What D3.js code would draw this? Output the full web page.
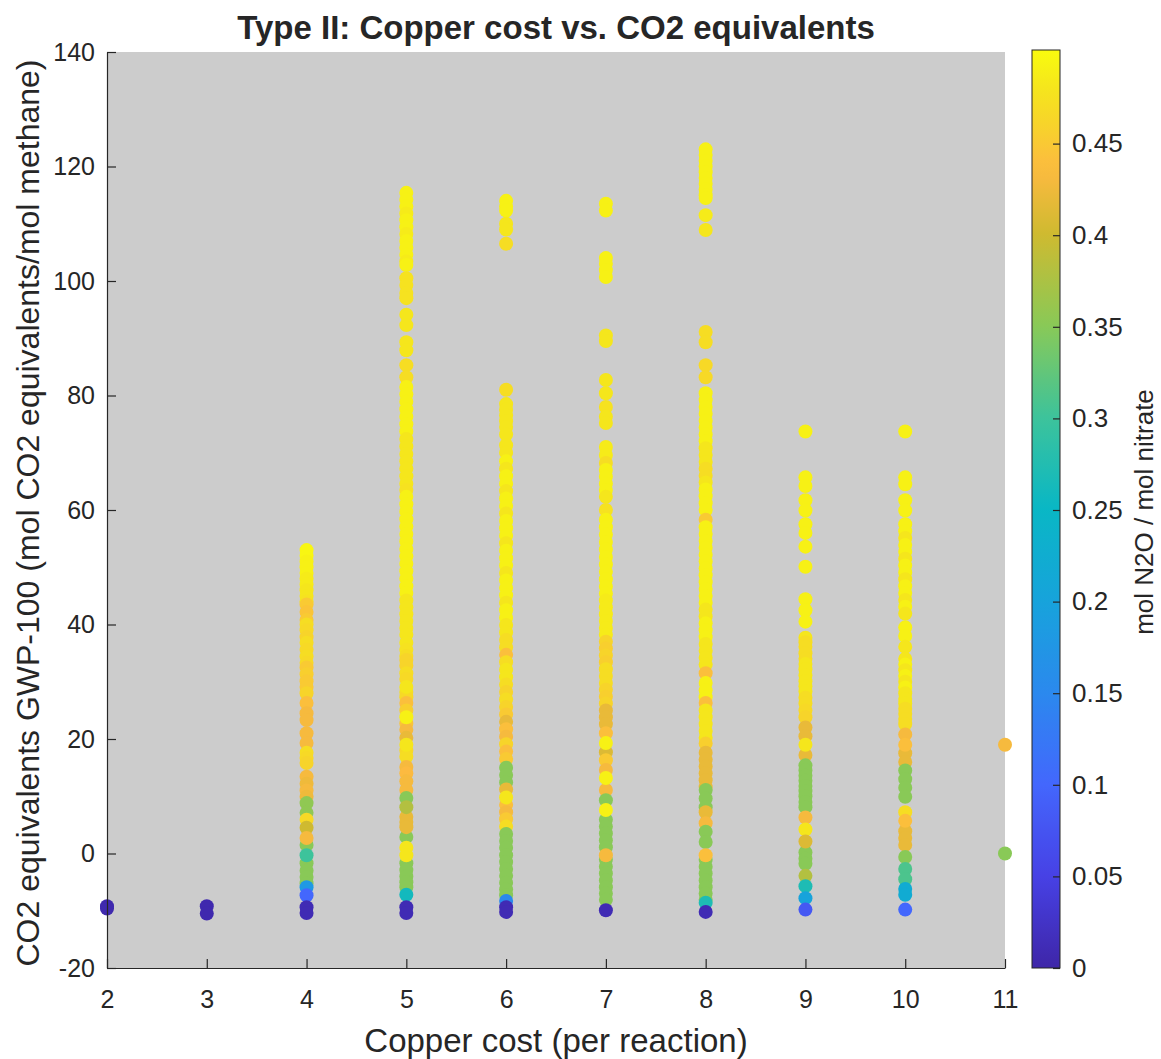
<!DOCTYPE html>
<html>
<head>
<meta charset="utf-8">
<script src="https://cdn.jsdelivr.net/npm/d3@7"></script>
<style>
  body { margin: 0; background: #ffffff; }
  text { font-family: "Liberation Sans", Arial, Helvetica, sans-serif; fill: #262626; }
</style>
</head>
<body>
<svg id="chart" width="1161" height="1059"></svg>
<script>
// ---- data: copper cost (x), CO2 equivalents GWP-100 (y), mol N2O / mol nitrate (colour) ----
const copperCost = [2, 3, 4, 5, 6, 7, 8, 9, 10, 11];
const xTickValues = [2, 3, 4, 5, 6, 7, 8, 9, 10, 11];
const yTickValues = [-20, 0, 20, 40, 60, 80, 100, 120, 140];
const colorTickValues = [0, 0.05, 0.1, 0.15, 0.2, 0.25, 0.3, 0.35, 0.4, 0.45];

// each entry: [CO2 equivalents, mol N2O / mol nitrate]
const cost2 = [[-9.2, 0.005], [-9.6, 0.005]];
const cost3 = [[-9.2, 0.005], [-10.5, 0.005]];
const cost4 = [
  [53, .495], [52, .495], [51, .49], [50, .49], [49, .49], [48, .485], [47, .485], [46, .48], [45, .48], [44, .475],
  [43.5, .45], [42.2, .445], [40.8, .45], [40, .47], [39, .465], [37.8, .46], [36.8, .47], [35.6, .465], [34.4, .47], [33.3, .465],
  [32.5, .45], [31.3, .455], [30.1, .45], [29.1, .45], [28, .46], [26.3, .44], [24.5, .43], [23.3, .43],
  [21, .43], [19.3, .43], [17.6, .47], [16.7, .465], [15.8, .46], [13.4, .43], [12.2, .425], [11, .43], [9.9, .425],
  [8.8, .355], [7.1, .355], [-1.7, .35], [-3, .35], [-4.1, .35], [-5.2, .35], [1.5, .35],
  [5.9, .465], [4.5, .40], [2.7, .43], [-0.3, .30],
  [-5.9, .18], [-7.3, .10], [-9.4, .01], [-10.4, .01]
];
const cost5 = [
  [115.4, .49], [114.2, .49], [113, .49], [111.8, .485], [110.6, .49], [109.4, .49], [108.2, .485], [107, .49], [105.8, .49], [104.6, .49], [103.4, .485], [102.8, .49],
  [100.5, .475], [99.3, .475], [97.9, .475], [97, .475], [94.1, .48], [92.3, .48], [89.3, .48], [87.9, .48], [85.3, .47], [83.2, .47],
  [81.5, .49], [80.2, .49], [78.9, .49], [77.6, .49], [76.3, .49], [75, .49], [73.7, .49], [72.4, .48], [71.1, .48], [69.8, .48],
  [68.5, .48], [67.2, .48], [65.9, .48], [64.6, .48], [63.5, .475], [62.3, .49], [61, .49], [59.7, .49], [58.4, .49], [57.1, .49],
  [55.8, .49], [54.5, .49], [53.2, .49], [51.9, .49], [50.6, .49], [49.3, .49], [48, .49], [46.7, .49], [45.5, .49],
  [44.2, .48], [43, .48], [41.8, .48], [40.6, .48], [39.4, .48], [38.2, .48], [36.8, .48],
  [35.6, .475], [34.5, .47], [33.8, .46], [32.8, .46], [31.5, .47], [30.5, .465], [28.2, .47], [27.3, .465], [26.3, .44], [25, .455],
  [22.7, .445], [21.6, .43], [20.2, .42], [18, .465], [16.9, .47], [15.1, .43], [14, .435], [12.6, .43], [11.1, .43],
  [-1.7, .35], [-2.9, .35], [-4, .35], [-5, .35], [-5.9, .35], [2.9, .35], [6.4, .42], [5.5, .42], [4.6, .42],
  [29.1, .48], [23.8, .49], [19, .48], [9.7, .35], [8.1, .38], [1, .48], [-0.3, .48],
  [-7.2, .26], [-9.4, .01], [-10.4, .01]
];
const cost6 = [
  [114, .49], [113, .49], [112.3, .49], [110, .48], [109, .48], [106.5, .47],
  [81, .47], [78.5, .48], [77.5, .48], [76.5, .48], [75.5, .48], [74.5, .48], [73.2, .48], [71.3, .48], [70, .48],
  [68.5, .49], [67.2, .48], [65.9, .49], [64.6, .49], [63.3, .48], [62, .49], [60.7, .49], [59.4, .48], [58.1, .49], [56.8, .49],
  [55.5, .49], [54.2, .48], [52.9, .49], [51.6, .49], [50.3, .49], [49, .48], [47.7, .49], [46.4, .49], [45.1, .49], [43.8, .48],
  [42.5, .49], [41.2, .49], [39.9, .48],
  [38.6, .48], [37.3, .47], [36, .47], [34.7, .44], [33.4, .47], [32.1, .48], [30.8, .48], [29.5, .47], [28.2, .46], [26.9, .47],
  [25.6, .46], [24.3, .45], [23, .42], [21.7, .44], [20.4, .43], [19.1, .46], [17.8, .44], [16.5, .45],
  [15, .35], [13.7, .35], [12.4, .35], [11.2, .42], [8.5, .44], [7.2, .43], [6, .45], [4.7, .47],
  [3.4, .35], [2.2, .35], [1, .35], [-0.3, .35], [-1.5, .35], [-2.7, .35], [-3.9, .35], [-5.1, .35], [-6.3, .35], [-7.3, .35],
  [9.8, .48], [-8.3, .15], [-9.4, .01], [-10.2, .01]
];
const cost7 = [
  [113.5, .49], [112.3, .49], [104, .49], [103, .49], [101.9, .49], [100.7, .49], [90.5, .48], [89.5, .48],
  [82.7, .48], [80.4, .48], [78, .475], [76.3, .48], [75.2, .48], [71, .485], [69.6, .485], [68.2, .47],
  [67, .49], [65.8, .49], [64.6, .49], [63.5, .49], [62.3, .48], [60, .475],
  [58.3, .49], [57, .49], [55.7, .49], [54.4, .49], [53.1, .49], [51.8, .49], [50.5, .49], [49.2, .49], [47.9, .49], [46.6, .49], [45.4, .49],
  [44.2, .485], [43, .485], [41.8, .485], [40.6, .485], [39.4, .485], [38.2, .485],
  [37, .46], [35.8, .455], [34.6, .46], [33.4, .455], [32.2, .47], [31, .47], [29.8, .47], [28.6, .46], [27.4, .455], [26.2, .46],
  [25, .42], [23.8, .42], [22.6, .42], [21, .44], [17.7, .41], [16.3, .45], [14.6, .43], [11.1, .43],
  [5.9, .35], [4.7, .35], [3.5, .35], [2.3, .35], [1.1, .35], [-1.1, .35], [-2.3, .35], [-3.5, .35], [-4.7, .35], [-5.9, .35], [-7, .35], [-8.1, .35],
  [19.3, .49], [13.2, .49], [9.3, .35], [7.6, .49], [-0.3, .43], [-9.9, .01]
];
const cost8 = [
  [123, .49], [122, .49], [121, .49], [120, .49], [119, .49], [118, .49], [117, .49], [116, .49], [115, .49], [114.5, .49],
  [111.5, .485], [108.9, .48], [91.1, .47], [89.3, .47], [85.3, .465], [83.2, .465],
  [80.4, .49], [79.2, .49], [78, .49], [76.8, .49], [75.6, .49], [74.4, .49], [73.2, .49], [72, .49], [70.8, .48], [69.6, .48], [68.4, .48],
  [67.2, .47], [66, .47], [64.8, .48], [63.6, .49], [62.4, .49], [61.2, .49], [60, .49], [58.3, .45],
  [57, .49], [55.8, .49], [54.6, .49], [53.4, .49], [52.2, .49], [51, .49], [49.8, .49], [48.6, .49], [47.4, .49], [46.2, .49], [45, .49], [43.8, .49],
  [42.6, .48], [41.4, .48], [40.2, .49], [39, .49], [37.8, .49], [36.6, .48], [35.4, .48], [34.2, .48], [33, .48], [31.5, .44],
  [29.8, .49], [28.5, .49], [27.3, .49], [26.3, .44], [25, .48], [23.8, .48], [22.6, .48], [21.4, .48], [20.2, .48], [19.2, .455],
  [17.6, .42], [16.4, .42], [15.2, .42], [14, .42], [12.8, .42], [11.6, .42], [11.1, .35], [9.6, .35], [8.1, .35],
  [-1.1, .35], [-2.3, .35], [-3.5, .35], [-4.7, .35], [-5.9, .35], [-7, .35], [-8.1, .35],
  [7.2, .42], [5.3, .43], [3.8, .35], [2, .35], [-0.3, .44], [-8.6, .27], [-10.2, .01]
];
const cost9 = [
  [73.7, .49], [65.7, .49], [64.2, .49], [61.7, .49], [59.9, .49], [57.5, .49], [56, .49], [53.6, .49], [50.1, .49],
  [44.4, .49], [42.5, .49], [40.5, .49], [37.7, .48], [36.9, .47], [36.1, .47], [35, .47], [34, .47], [33.1, .48], [32.2, .48],
  [31.1, .48], [30.1, .48], [29.2, .48], [28.3, .48], [27.2, .47], [26.2, .47], [25, .465], [23.8, .46], [22, .42], [20.5, .42],
  [17.2, .42], [15.4, .35], [14.5, .35], [13.6, .35], [12.7, .35], [11.8, .35], [10.9, .35], [10, .35], [9, .35], [8.1, .35],
  [0.2, .35], [-0.9, .35], [-1.8, .35],
  [19, .48], [6.3, .43], [4.2, .48], [2.1, .41], [-3.9, .38], [-5.7, .27], [-7.8, .2], [-9.8, .08]
];
const cost10 = [
  [73.7, .49], [65.7, .49], [64.5, .49], [61.7, .49], [59.9, .49], [57.5, .49], [56.3, .49], [55.1, .48], [53.9, .49], [52.7, .49],
  [51.5, .48], [50.3, .49], [49.1, .49], [47.9, .48], [46.7, .49], [45.5, .49], [44.3, .48], [43.1, .49], [41.9, .48],
  [39.5, .49], [38, .49], [36.1, .48], [34, .48], [33, .49], [32, .48], [31, .49], [30, .48], [29, .49], [28, .48], [27, .48], [26.2, .48],
  [25.3, .47], [24.4, .47], [23.5, .47], [22.6, .47], [20.8, .43], [17.5, .42], [16, .42],
  [14.5, .35], [13, .35], [11.5, .35], [3.9, .42], [2.7, .42], [1.5, .42],
  [19, .44], [9.9, .35], [7.2, .47], [5.7, .44], [-0.6, .35], [-2.7, .31], [-4.5, .31], [-6.2, .22], [-7.2, .22], [-9.8, .1]
];
const cost11 = [[19, .43], [0, .35]];

const seriesByCost = [cost2, cost3, cost4, cost5, cost6, cost7, cost8, cost9, cost10, cost11];

// ---- layout ----
const svg = d3.select("#chart");
const plot = { left: 107, right: 1005, top: 52, bottom: 968 };
const bar = { left: 1032, right: 1060 };
const axisColor = "#262626";
const fontStack = '"Liberation Sans", Arial, sans-serif';

const x = d3.scaleLinear().domain([2, 11]).range([plot.left, plot.right]);
const y = d3.scaleLinear().domain([-20, 140]).range([plot.bottom, plot.top]);
const cScale = d3.scaleLinear().domain([0, 0.5]).range([plot.bottom, plot.top]);

// parula-like colormap over the colour range 0 .. 0.5
const parulaStops = [
  [0.00, "#3e26a8"], [0.10, "#4741e5"], [0.20, "#4367fd"], [0.30, "#2b89ee"], [0.40, "#17a3db"],
  [0.50, "#09b7c5"], [0.60, "#3dc39b"], [0.70, "#89c957"], [0.80, "#cfba30"], [0.87, "#fcba40"],
  [0.92, "#f7d42a"], [0.96, "#f5e61c"], [1.00, "#f9fb0e"]
];
const parula = d3.scaleLinear()
  .domain(parulaStops.map(d => d[0]))
  .range(parulaStops.map(d => d[1]))
  .interpolate(d3.interpolateRgb)
  .clamp(true);
const colorOf = v => parula(v / 0.5);

// plot background
svg.append("rect")
  .attr("x", plot.left).attr("y", plot.top)
  .attr("width", plot.right - plot.left).attr("height", plot.bottom - plot.top)
  .attr("fill", "#cccccc");

// scatter points
const points = [];
seriesByCost.forEach((series, i) => series.forEach(([g, n]) => points.push({ cost: copperCost[i], g, n })));
svg.append("g").selectAll("circle").data(points).join("circle")
  .attr("cx", d => x(d.cost))
  .attr("cy", d => y(d.g))
  .attr("r", 7)
  .attr("fill", d => colorOf(d.n));

// axes (ticks point inward)
const xAxis = d3.axisBottom(x).tickValues(xTickValues).tickFormat(d => String(d)).tickSizeInner(-9).tickSizeOuter(0).tickPadding(22);
const yAxis = d3.axisLeft(y).tickValues(yTickValues).tickFormat(d => String(d)).tickSizeInner(-9).tickSizeOuter(0).tickPadding(12);

const gx = svg.append("g").attr("transform", `translate(0,${plot.bottom})`).call(xAxis);
const gy = svg.append("g").attr("transform", `translate(${plot.left},0)`).call(yAxis);
[gx, gy].forEach(g => {
  g.select(".domain").attr("stroke", axisColor).attr("stroke-width", 1.2);
  g.selectAll(".tick line").attr("stroke", axisColor).attr("stroke-width", 1.2);
  g.selectAll(".tick text").attr("fill", axisColor).style("font-size", "25px").style("font-family", fontStack);
});
gy.selectAll(".tick text").attr("text-anchor", "end").attr("x", -12);

// colour bar
const defs = svg.append("defs");
const grad = defs.append("linearGradient").attr("id", "parulaGrad")
  .attr("x1", 0).attr("y1", 1).attr("x2", 0).attr("y2", 0);
d3.range(0, 1.0001, 0.02).forEach(t => {
  grad.append("stop").attr("offset", t).attr("stop-color", parula(t));
});
svg.append("rect")
  .attr("x", bar.left).attr("y", plot.top - 2)
  .attr("width", bar.right - bar.left).attr("height", plot.bottom - plot.top + 2)
  .attr("fill", "url(#parulaGrad)")
  .attr("stroke", axisColor).attr("stroke-width", 1);

const cAxis = d3.axisRight(cScale).tickValues(colorTickValues).tickFormat(d => d === 0 ? "0" : String(+d.toFixed(2)))
  .tickSizeInner(-7).tickSizeOuter(0).tickPadding(12);
const gc = svg.append("g").attr("transform", `translate(${bar.right},0)`).call(cAxis);
gc.select(".domain").remove();
gc.selectAll(".tick line").attr("stroke", axisColor).attr("stroke-width", 1.2);
gc.selectAll(".tick text").attr("fill", axisColor).style("font-size", "26px").style("font-family", fontStack);

// titles and labels
svg.append("text")
  .attr("x", (plot.left + plot.right) / 2).attr("y", 39)
  .attr("text-anchor", "middle")
  .style("font-size", "33px").style("font-weight", "bold")
  .text("Type II: Copper cost vs. CO2 equivalents");

svg.append("text")
  .attr("x", (plot.left + plot.right) / 2).attr("y", 1052)
  .attr("text-anchor", "middle")
  .style("font-size", "33px")
  .text("Copper cost (per reaction)");

svg.append("text")
  .attr("transform", `translate(39,${(plot.top + plot.bottom) / 2 + 3}) rotate(-90)`)
  .attr("text-anchor", "middle")
  .style("font-size", "32px")
  .text("CO2 equivalents GWP-100 (mol CO2 equivalents/mol methane)");

svg.append("text")
  .attr("transform", `translate(1153,${(plot.top + plot.bottom) / 2 + 2}) rotate(-90)`)
  .attr("text-anchor", "middle")
  .style("font-size", "26px")
  .text("mol N2O / mol nitrate");
</script>
</body>
</html>
